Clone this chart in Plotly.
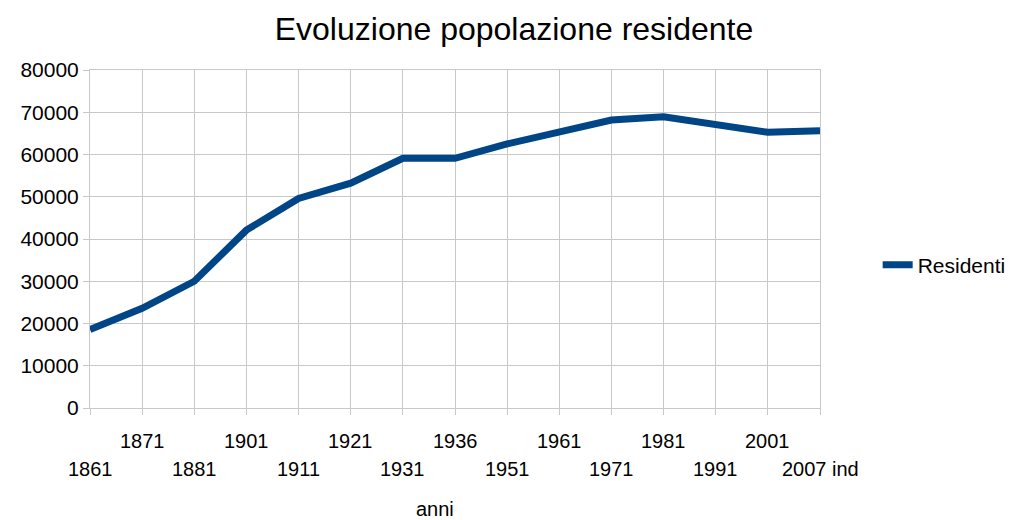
import plotly.graph_objects as go

anni = ["1861", "1871", "1881", "1901", "1911", "1921", "1931", "1936",
        "1951", "1961", "1971", "1981", "1991", "2001", "2007 ind"]
residenti = [18600, 23600, 30000, 42100, 49600, 53200, 59100, 59100,
             62500, 65150, 68150, 68950, 67200, 65250, 65650]
y_ticks = [0, 10000, 20000, 30000, 40000, 50000, 60000, 70000, 80000]

FONT = "Liberation Sans, Arial, sans-serif"
GRID = "#c8c8c8"

fig = go.Figure()
fig.add_trace(go.Scatter(
    x=list(range(len(anni))), y=residenti, mode="lines", name="Residenti",
    line=dict(color="#004586", width=7),
))

annotations = []
for i, a in enumerate(anni):
    annotations.append(dict(
        x=i, y=0, xref="x", yref="y", text=a, showarrow=False,
        yanchor="middle", xanchor="center",
        yshift=-33 if i % 2 == 1 else -61,
        font=dict(family=FONT, size=20, color="#000000"),
    ))
annotations.append(dict(
    x=(435 - 90) / 730, y=(408 - 509) / 338, xref="paper", yref="paper",
    text="anni", showarrow=False, yanchor="middle", xanchor="center",
    font=dict(family=FONT, size=20, color="#000000"),
))

fig.update_layout(
    width=1009, height=520,
    margin=dict(l=90, r=189, t=70, b=112, autoexpand=False),
    paper_bgcolor="white", plot_bgcolor="white",
    title=dict(text="Evoluzione popolazione residente", x=514 / 1009, xanchor="center",
               y=1 - 29 / 520, yanchor="middle",
               font=dict(family=FONT, size=32, color="#000000")),
    font=dict(family=FONT, size=21, color="#000000"),
    showlegend=True,
    legend=dict(x=1.079, y=0.423, xanchor="left", yanchor="middle",
                font=dict(family=FONT, size=21, color="#000000"),
                bgcolor="rgba(0,0,0,0)"),
    annotations=annotations,
)
fig.update_xaxes(
    range=[0, len(anni) - 1], tickvals=list(range(len(anni))),
    showgrid=True, gridcolor=GRID, gridwidth=1,
    showline=True, linecolor=GRID, linewidth=1, mirror=True,
    ticks="outside", ticklen=6, tickcolor=GRID,
    showticklabels=False, zeroline=False,
)
fig.update_yaxes(
    range=[0, 80000], tickvals=y_ticks, tickformat="d",
    showgrid=True, gridcolor=GRID, gridwidth=1,
    showline=True, linecolor=GRID, linewidth=1, mirror=True,
    ticks="outside", ticklen=6, tickcolor=GRID,
    tickfont=dict(family=FONT, size=21, color="#000000"),
    zeroline=False,
)

fig.write_html("out.html", config={"displayModeBar": False},
               post_script="document.body.style.margin='0';document.body.style.padding='0';")
